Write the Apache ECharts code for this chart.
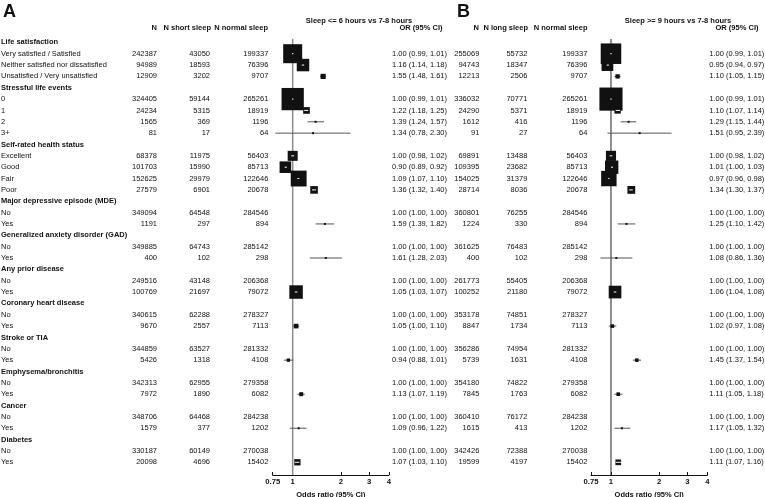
<!DOCTYPE html>
<html lang="en">
<head>
<meta charset="UTF-8">
<title>Sleep duration forest plot</title>
<script src="https://cdn.jsdelivr.net/npm/echarts@6/dist/echarts.min.js"></script>
<style>body{margin:0;background:#fff}</style>
</head>
<body>
<div id="chart" style="width:765px;height:497px;"></div>
<script>
// row labels, null in the N columns marks a group heading
var rowLabels = [
    'Life satisfaction', 'Very satisfied / Satisfied', 'Neither satisfied nor dissatisfied', 'Unsatisfied / Very unsatisfied',
    'Stressful life events', '0', '1', '2', '3+',
    'Self-rated health status', 'Excellent', 'Good', 'Fair', 'Poor',
    'Major depressive episode (MDE)', 'No', 'Yes',
    'Generalized anxiety disorder (GAD)', 'No', 'Yes',
    'Any prior disease', 'No', 'Yes',
    'Coronary heart disease', 'No', 'Yes',
    'Stroke or TIA', 'No', 'Yes',
    'Emphysema/bronchitis', 'No', 'Yes',
    'Cancer', 'No', 'Yes',
    'Diabetes', 'No', 'Yes'
];

// panel A: sleep <= 6 hours vs 7-8 hours
var nA = [null, 242387, 94989, 12909, null, 324405, 24234, 1565, 81, null, 68378, 101703, 152625, 27579,
    null, 349094, 1191, null, 349885, 400, null, 249516, 100769, null, 340615, 9670, null, 344859, 5426,
    null, 342313, 7972, null, 348706, 1579, null, 330187, 20098];
var nShort = [null, 43050, 18593, 3202, null, 59144, 5315, 369, 17, null, 11975, 15990, 29979, 6901,
    null, 64548, 297, null, 64743, 102, null, 43148, 21697, null, 62288, 2557, null, 63527, 1318,
    null, 62955, 1890, null, 64468, 377, null, 60149, 4696];
var nNormalA = [null, 199337, 76396, 9707, null, 265261, 18919, 1196, 64, null, 56403, 85713, 122646, 20678,
    null, 284546, 894, null, 285142, 298, null, 206368, 79072, null, 278327, 7113, null, 281332, 4108,
    null, 279358, 6082, null, 284238, 1202, null, 270038, 15402];
var orA = [null, 1.00, 1.16, 1.55, null, 1.00, 1.22, 1.39, 1.34, null, 1.00, 0.90, 1.09, 1.36,
    null, 1.00, 1.59, null, 1.00, 1.61, null, 1.00, 1.05, null, 1.00, 1.05, null, 1.00, 0.94,
    null, 1.00, 1.13, null, 1.00, 1.09, null, 1.00, 1.07];
var loA = [null, 0.99, 1.14, 1.48, null, 0.99, 1.18, 1.24, 0.78, null, 0.98, 0.89, 1.07, 1.32,
    null, 1.00, 1.39, null, 1.00, 1.28, null, 1.00, 1.03, null, 1.00, 1.00, null, 1.00, 0.88,
    null, 1.00, 1.07, null, 1.00, 0.96, null, 1.00, 1.03];
var hiA = [null, 1.01, 1.18, 1.61, null, 1.01, 1.25, 1.57, 2.30, null, 1.02, 0.92, 1.10, 1.40,
    null, 1.00, 1.82, null, 1.00, 2.03, null, 1.00, 1.07, null, 1.00, 1.10, null, 1.00, 1.01,
    null, 1.00, 1.19, null, 1.00, 1.22, null, 1.00, 1.10];

// panel B: sleep >= 9 hours vs 7-8 hours
var nB = [null, 255069, 94743, 12213, null, 336032, 24290, 1612, 91, null, 69891, 109395, 154025, 28714,
    null, 360801, 1224, null, 361625, 400, null, 261773, 100252, null, 353178, 8847, null, 356286, 5739,
    null, 354180, 7845, null, 360410, 1615, null, 342426, 19599];
var nLong = [null, 55732, 18347, 2506, null, 70771, 5371, 416, 27, null, 13488, 23682, 31379, 8036,
    null, 76255, 330, null, 76483, 102, null, 55405, 21180, null, 74851, 1734, null, 74954, 1631,
    null, 74822, 1763, null, 76172, 413, null, 72388, 4197];
var nNormalB = nNormalA.slice();
var orB = [null, 1.00, 0.95, 1.10, null, 1.00, 1.10, 1.29, 1.51, null, 1.00, 1.01, 0.97, 1.34,
    null, 1.00, 1.25, null, 1.00, 1.08, null, 1.00, 1.06, null, 1.00, 1.02, null, 1.00, 1.45,
    null, 1.00, 1.11, null, 1.00, 1.17, null, 1.00, 1.11];
var loB = [null, 0.99, 0.94, 1.05, null, 0.99, 1.07, 1.15, 0.95, null, 0.98, 1.00, 0.96, 1.30,
    null, 1.00, 1.10, null, 1.00, 0.86, null, 1.00, 1.04, null, 1.00, 0.97, null, 1.00, 1.37,
    null, 1.00, 1.05, null, 1.00, 1.05, null, 1.00, 1.07];
var hiB = [null, 1.01, 0.97, 1.15, null, 1.01, 1.14, 1.44, 2.39, null, 1.02, 1.03, 0.98, 1.37,
    null, 1.00, 1.42, null, 1.00, 1.36, null, 1.00, 1.08, null, 1.00, 1.08, null, 1.00, 1.54,
    null, 1.00, 1.18, null, 1.00, 1.32, null, 1.00, 1.16];

var orTicks = [0.75, 1, 2, 3, 4];

var FONT = 'Liberation Sans, Arial, sans-serif';
var FS = 7.5;
var ROW_MIN = -1, ROW_MAX = 38.12;
var GRID_TOP = 31, GRID_H = 444;

var chart = echarts.init(document.getElementById('chart'));

function orText(o, l, h) {
    return o.toFixed(2) + ' (' + l.toFixed(2) + ', ' + h.toFixed(2) + ')';
}

function txt(x, y, s, align, bold) {
    return {
        type: 'text',
        style: {
            x: x, y: y, text: s, align: align, verticalAlign: 'middle',
            fontSize: FS, fontFamily: FONT, fontWeight: bold ? 'bold' : 'normal', fill: '#111'
        }
    };
}

// table columns: [array, right edge] ; OR column drawn left aligned
function tableSeries(withLabel, cols, orX, ors, los, his) {
    return {
        type: 'custom',
        xAxisIndex: 0, yAxisIndex: 0,
        silent: true, clip: false,
        data: rowLabels.map(function (_, i) { return [0, i]; }),
        renderItem: function (params, api) {
            var i = api.value(1);
            var y = api.coord([0, i])[1];
            var kids = [];
            var head = cols[0][0][i] == null;
            if (withLabel) kids.push(txt(1, y, rowLabels[i], 'left', head));
            if (!head) {
                cols.forEach(function (c) { kids.push(txt(c[1], y, String(c[0][i]), 'right', false)); });
                kids.push(txt(orX, y, orText(ors[i], los[i], his[i]), 'left', false));
            }
            return { type: 'group', children: kids };
        }
    };
}

function forestSeries(idx, ors, los, his, ns, k, lineClr) {
    var data = [];
    rowLabels.forEach(function (_, i) {
        if (ors[i] != null && his[i] > los[i]) {
            data.push([Math.log(ors[i]), i, Math.log(los[i]), Math.log(his[i]), ns[i]]);
        }
    });
    return {
        type: 'custom',
        xAxisIndex: idx, yAxisIndex: idx,
        silent: true, z: 3,
        data: data,
        renderItem: function (params, api) {
            var row = api.value(1);
            var c = api.coord([api.value(0), row]);
            var l = api.coord([api.value(2), row]);
            var h = api.coord([api.value(3), row]);
            var s = Math.max(2, k * Math.sqrt(api.value(4)));
            var inside = (h[0] - l[0]) < s;
            var box = { type: 'rect', shape: { x: c[0] - s / 2, y: c[1] - s / 2, width: s, height: s }, style: { fill: '#111' } };
            var line = {
                type: 'line', shape: { x1: l[0], y1: c[1], x2: h[0], y2: c[1] },
                style: { stroke: inside ? '#fff' : lineClr, lineWidth: 1 }
            };
            return { type: 'group', children: inside ? [box, line] : [line, box] };
        }
    };
}

function refLine(idx, clr, w) {
    return {
        type: 'line', xAxisIndex: idx, yAxisIndex: idx,
        data: [[0, -0.3], [0, ROW_MAX]], symbol: 'none', silent: true, z: 1,
        lineStyle: { color: clr, width: w }
    };
}

var logTicks = orTicks.map(function (v) { return Math.log(v); });

function orAxis(idx) {
    return {
        gridIndex: idx, type: 'value',
        min: Math.log(0.75), max: Math.log(4),
        splitLine: { show: false },
        axisLine: { show: true, onZero: false, lineStyle: { color: '#111', width: 1 } },
        axisTick: { show: true, inside: true, length: 3, customValues: logTicks, lineStyle: { color: '#111' } },
        axisLabel: {
            customValues: logTicks, margin: 3, color: '#111', fontSize: 7.7, fontWeight: 'bold', fontFamily: FONT,
            formatter: function (v) { return String(Math.round(Math.exp(v) * 100) / 100); }
        },
        name: 'Odds ratio (95% CI)', nameLocation: 'middle', nameGap: 13,
        nameTextStyle: { fontSize: 7.5, fontWeight: 'bold', fontFamily: FONT, color: '#111' }
    };
}

function rowAxis(idx) {
    return { gridIndex: idx, type: 'value', inverse: true, min: ROW_MIN, max: ROW_MAX, show: false };
}

function head(x, y, s, align) {
    return { type: 'text', x: x, y: y, style: { text: s, align: align, verticalAlign: 'middle', fontSize: FS, fontWeight: 'bold', fontFamily: FONT, fill: '#111' } };
}

var option = {
    animation: false,
    backgroundColor: '#fff',
    grid: [
        { left: 0, width: 765, top: GRID_TOP, height: GRID_H, outerBoundsMode: 'none' },
        { left: 272.7, width: 116.3, top: GRID_TOP, height: GRID_H, outerBoundsMode: 'none' },
        { left: 591, width: 116.3, top: GRID_TOP, height: GRID_H, outerBoundsMode: 'none' }
    ],
    xAxis: [
        { gridIndex: 0, type: 'value', min: 0, max: 765, show: false },
        orAxis(1), orAxis(2)
    ],
    yAxis: [rowAxis(0), rowAxis(1), rowAxis(2)],
    graphic: [
        { type: 'text', x: 3, y: 3, style: { text: 'A', fontSize: 18, fontWeight: 'bold', fontFamily: FONT, fill: '#111' } },
        { type: 'text', x: 457, y: 3, style: { text: 'B', fontSize: 18, fontWeight: 'bold', fontFamily: FONT, fill: '#111' } },
        head(359, 20.5, 'Sleep <= 6 hours vs 7-8 hours', 'center'),
        head(157, 28.3, 'N', 'right'),
        head(211, 28.3, 'N short sleep', 'right'),
        head(268, 28.3, 'N normal sleep', 'right'),
        head(421, 28.3, 'OR (95% CI)', 'center'),
        head(678, 20.5, 'Sleep >= 9 hours vs 7-8 hours', 'center'),
        head(479, 28.3, 'N', 'right'),
        head(528, 28.3, 'N long sleep', 'right'),
        head(587.5, 28.3, 'N normal sleep', 'right'),
        head(737, 28.3, 'OR (95% CI)', 'center')
    ],
    series: [
        tableSeries(true, [[nA, 157], [nShort, 210], [nNormalA, 268.3]], 392, orA, loA, hiA),
        tableSeries(false, [[nB, 479.3], [nLong, 527.3], [nNormalB, 587.3]], 709.3, orB, loB, hiB),
        refLine(1, '#8c8c8c', 1.5),
        refLine(2, '#222', 1),
        forestSeries(1, orA, loA, hiA, nShort, 0.0916, '#555'),
        forestSeries(2, orB, loB, hiB, nLong, 0.087, '#555')
    ]
};

chart.setOption(option);
</script>
</body>
</html>
